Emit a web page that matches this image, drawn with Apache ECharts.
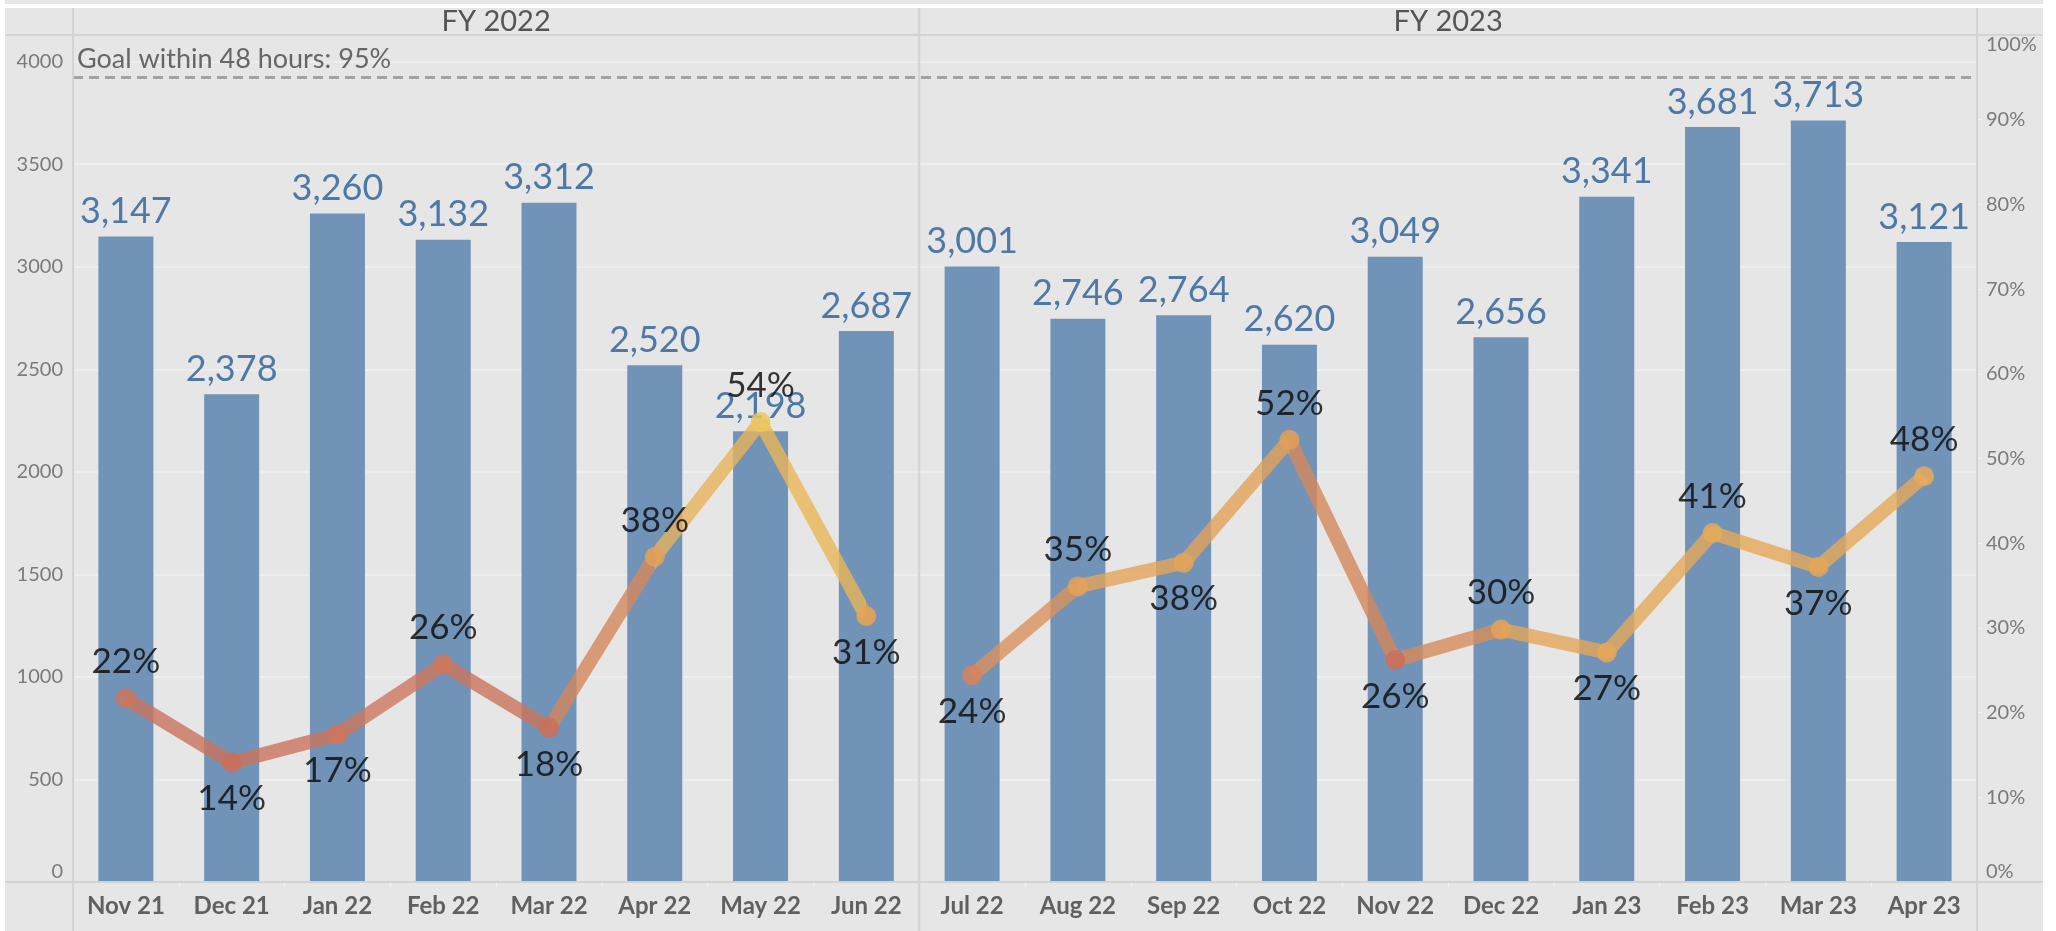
<!DOCTYPE html>
<html>
<head>
<meta charset="utf-8">
<title>Tickets handled vs. within 48 hours</title>
<script src="https://cdn.jsdelivr.net/npm/echarts@6/dist/echarts.min.js"></script>
<style>
  html, body { margin: 0; padding: 0; background: #fff; }
  #chart { width: 2056px; height: 931px; }
</style>
</head>
<body>
<div id="chart"></div>
<script>
// data
const months = ['Nov 21', 'Dec 21', 'Jan 22', 'Feb 22', 'Mar 22', 'Apr 22', 'May 22', 'Jun 22',
  'Jul 22', 'Aug 22', 'Sep 22', 'Oct 22', 'Nov 22', 'Dec 22', 'Jan 23', 'Feb 23', 'Mar 23', 'Apr 23'];
const fiscalYears = ['FY 2022', 'FY 2023'];
const fy2022Count = 8; // Nov 21 .. Jun 22 belong to FY 2022
const ticketCounts = [3147, 2378, 3260, 3132, 3312, 2520, 2198, 2687,
  3001, 2746, 2764, 2620, 3049, 2656, 3341, 3681, 3713, 3121];
const within48h = [0.217, 0.141, 0.174, 0.257, 0.182, 0.384, 0.543, 0.314,
  0.244, 0.349, 0.377, 0.522, 0.262, 0.298, 0.271, 0.412, 0.372, 0.479];
const goal = 0.95;
const countTicks = [0, 500, 1000, 1500, 2000, 2500, 3000, 3500, 4000];

// styling: where each % label sits, and the colour of each point (tableau colour legend)
const pctLabelPos = ['top', 'bottom', 'bottom', 'top', 'bottom', 'top', 'top', 'bottom',
  'bottom', 'top', 'bottom', 'top', 'bottom', 'top', 'bottom', 'top', 'bottom', 'top'];
const pointColors = ['#cb755d', '#c9705b', '#cc775d', '#cd785e', '#c9715b', '#e2a059', '#ecc65c', '#e6a552',
  '#d3845d', '#e3a25a', '#e4a55a', '#e29f59', '#c9705a', '#e3a45a', '#e5a85a', '#e6aa58', '#e5a758', '#e6ab58'];

const W = 2056, H = 931;
const grid = { left: 73, right: 79, top: 35, bottom: 49 };
const plotW = W - grid.left - grid.right;
const bandW = plotW / months.length;
const sepX = grid.left + bandW * fy2022Count;
const lineColor = '#d3d3d3';

const chart = echarts.init(document.getElementById('chart'), null, { renderer: 'canvas' });

// line data split into the two fiscal-year panes
function paneData(fromIdx, toIdx) {
  return within48h.map((v, i) => {
    if (i < fromIdx || i >= toIdx) return '-';
    return { value: v, label: { position: pctLabelPos[i] } };
  });
}

const pctLabel = {
  show: true,
  color: '#111',
  fontSize: 35,
  fontFamily: 'Lato',
  distance: 9,
  formatter: p => Math.round(p.value * 100) + '%'
};

const vline = x => ({
  type: 'line', z: 50, silent: true,
  shape: { x1: x, y1: 8, x2: x, y2: H },
  style: { stroke: lineColor, lineWidth: 2 }
});
const hline = y => ({
  type: 'line', z: 50, silent: true,
  shape: { x1: 5, y1: y, x2: 2043, y2: y },
  style: { stroke: lineColor, lineWidth: 2 }
});

const options = {
  backgroundColor: '#e6e6e6',
  animation: false,
  textStyle: { fontFamily: 'Lato' },
  grid: grid,
  graphic: [
    // white frame round the tableau panel
    { type: 'rect', z: 40, silent: true, shape: { x: 0, y: 4, width: W, height: 4 }, style: { fill: '#fff' } },
    { type: 'rect', z: 40, silent: true, shape: { x: 0, y: 0, width: 5, height: H }, style: { fill: '#fff' } },
    { type: 'rect', z: 40, silent: true, shape: { x: 2043, y: 0, width: W - 2043, height: H }, style: { fill: '#fff' } },
    hline(grid.top),
    hline(H - grid.bottom),
    vline(grid.left),
    vline(sepX),
    vline(W - grid.right),
    {
      type: 'text', z: 50, silent: true,
      x: grid.left + bandW * fy2022Count / 2, y: 22,
      style: { text: fiscalYears[0], fill: '#555', font: '29px Lato', textAlign: 'center', textVerticalAlign: 'middle' }
    },
    {
      type: 'text', z: 50, silent: true,
      x: sepX + bandW * (months.length - fy2022Count) / 2, y: 22,
      style: { text: fiscalYears[1], fill: '#555', font: '29px Lato', textAlign: 'center', textVerticalAlign: 'middle' }
    }
  ],
  // colour runs along the months, blending between neighbouring points like tableau does
  visualMap: {
    type: 'continuous',
    show: false,
    seriesIndex: [1, 2],
    dimension: 0,
    min: 0,
    max: months.length - 1,
    inRange: { color: pointColors }
  },
  xAxis: {
    type: 'category',
    data: months,
    axisLine: { show: false },
    axisTick: { show: true, length: 5, lineStyle: { color: '#f3f3f3' } },
    axisLabel: { fontSize: 24, color: '#606060', fontWeight: 'bold', margin: 12 }
  },
  yAxis: [
    {
      type: 'value',
      min: 0,
      max: 4130,
      interval: 500,
      axisLine: { show: false },
      axisTick: { show: false },
      splitLine: { lineStyle: { color: '#efefef', width: 1.5 } },
      axisLabel: {
        fontSize: 20, color: '#7a7a7a', margin: 10,
        showMaxLabel: false,
        verticalAlignMinLabel: 'bottom',
        formatter: v => (countTicks.includes(v) ? String(v) : '')
      }
    },
    {
      type: 'value',
      position: 'right',
      min: 0,
      max: 1,
      interval: 0.1,
      axisLine: { show: false },
      axisTick: { show: true, length: 4, lineStyle: { color: '#f3f3f3' } },
      splitLine: { show: false },
      axisLabel: {
        fontSize: 20, color: '#7a7a7a', margin: 9,
        verticalAlignMinLabel: 'bottom',
        verticalAlignMaxLabel: 'top',
        formatter: v => Math.round(v * 100) + '%'
      }
    }
  ],
  series: [
    {
      name: 'Tickets',
      type: 'bar',
      yAxisIndex: 0,
      barWidth: '52%',
      data: ticketCounts,
      itemStyle: { color: '#7193b8' },
      label: {
        show: true,
        position: 'top',
        distance: 7,
        color: '#4e79a7',
        fontSize: 36,
        formatter: p => p.value.toLocaleString('en-US')
      }
    },
    {
      name: 'Within 48 hours FY22',
      type: 'line',
      yAxisIndex: 1,
      z: 3,
      data: paneData(0, fy2022Count),
      symbol: 'circle',
      symbolSize: 20,
      lineStyle: { width: 14, opacity: 0.8 },
      itemStyle: { opacity: 0.85 },
      label: pctLabel,
      markLine: {
        silent: true,
        symbol: 'none',
        lineStyle: { color: '#a3a3a3', width: 3, type: [10, 6] },
        label: {
          show: true,
          position: 'insideStartTop',
          distance: [4, 5],
          color: '#666',
          fontSize: 27,
          formatter: 'Goal within 48 hours: 95%'
        },
        data: [{ yAxis: goal }]
      }
    },
    {
      name: 'Within 48 hours FY23',
      type: 'line',
      yAxisIndex: 1,
      z: 3,
      data: paneData(fy2022Count, months.length),
      symbol: 'circle',
      symbolSize: 20,
      lineStyle: { width: 14, opacity: 0.8 },
      itemStyle: { opacity: 0.85 },
      label: pctLabel
    }
  ]
};

chart.setOption(options);
</script>
</body>
</html>
